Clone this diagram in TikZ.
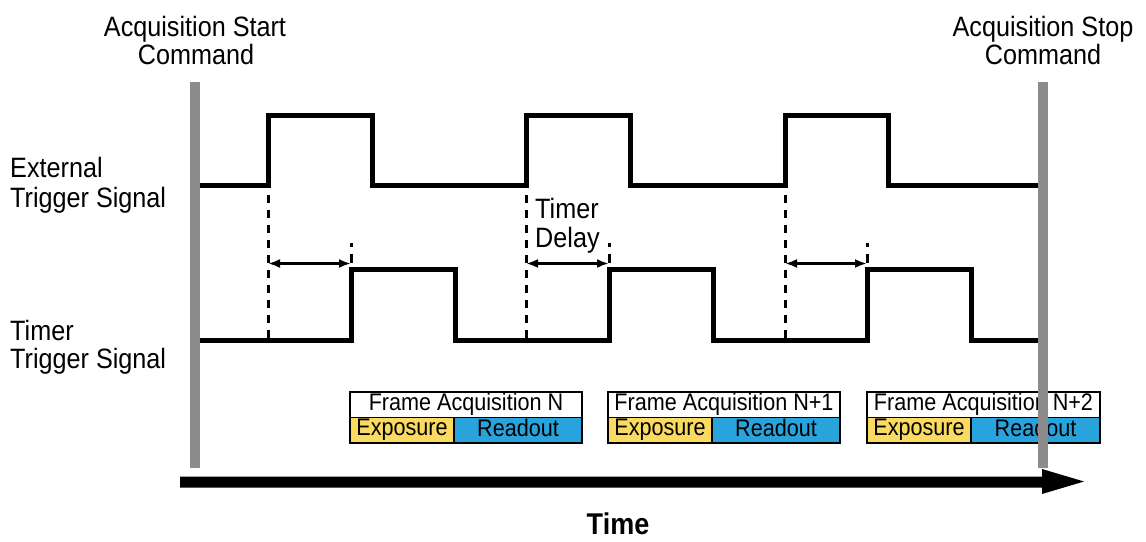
\documentclass[tikz,border=0pt]{standalone}
\usepackage{fontspec}
\setmainfont{Liberation Sans}[FakeStretch=0.9]
\usetikzlibrary{arrows.meta}
\definecolor{barGray}{HTML}{8C8C8C}
\definecolor{expYellow}{HTML}{FADB5F}
\definecolor{readBlue}{HTML}{29A3DC}
\tikzset{
  lbl/.style={inner sep=0pt, font=\fontsize{28}{29}\selectfont},
  boxtxt/.style={inner sep=0pt, font=\fontsize{24}{24}\selectfont},
  signal/.style={line width=5pt, line join=miter, line cap=rect},
  guide/.style={line width=3pt, dash pattern=on 8pt off 7pt},
  shortguide/.style={line width=3pt, dash pattern=on 4pt off 7pt on 9pt off 20pt},
  delay/.style={line width=3pt, {Latex[length=12pt,width=9pt]}-{Latex[length=12pt,width=9pt]}},
  cell/.style={draw=black, line width=1.5pt},
  cmdbar/.style={fill=barGray, draw=none},
}
\begin{document}
\begin{tikzpicture}[x=1pt,y=-1pt]
\useasboundingbox (0,0) rectangle (1146,541);

% labels
\node[lbl, anchor=base] (startA) at (195,36) {Acquisition Start};
\node[lbl, anchor=base] (startB) at (196,64) {Command};
\node[lbl, anchor=base] (stopA) at (1043,36) {Acquisition Stop};
\node[lbl, anchor=base] (stopB) at (1043,64) {Command};
\node[lbl, anchor=base west] (extA) at (10,177) {External};
\node[lbl, anchor=base west] (extB) at (10,207) {Trigger Signal};
\node[lbl, anchor=base west] (timA) at (10,340) {Timer};
\node[lbl, anchor=base west] (timB) at (10,368) {Trigger Signal};
\node[lbl, anchor=base west] (tdA) at (535,218) {Timer};
\node[lbl, anchor=base west] (tdB) at (535,247) {Delay};
\node[inner sep=0pt, anchor=base, font=\fontsize{30}{30}\selectfont\bfseries] (time) at (618,534) {Time};

% external trigger signal
\draw[signal] (200,185) -- (268,185) -- (268,115) -- (372,115) -- (372,185)
  -- (526,185) -- (526,115) -- (630,115) -- (630,185)
  -- (785,185) -- (785,115) -- (888,115) -- (888,185) -- (1040,185);
% timer trigger signal
\draw[signal] (200,340) -- (351,340) -- (351,269) -- (455,269) -- (455,340)
  -- (609,340) -- (609,269) -- (713,269) -- (713,340)
  -- (867,340) -- (867,269) -- (971,269) -- (971,340) -- (1040,340);

% guides and delay arrows
\foreach \a/\b [count=\i] in {268/351, 526/609, 785/867}{
  \coordinate (g\i top) at (\a,195);
  \coordinate (g\i bot) at (\a,340);
  \coordinate (s\i top) at (\b,242.5);
  \coordinate (s\i bot) at (\b,268);
  \coordinate (d\i a) at (\a,263.5);
  \coordinate (d\i b) at (\b,263.5);
  \draw[guide] (g\i top) -- (g\i bot);
  \draw[shortguide] (s\i top) -- (s\i bot);
  \draw[delay] (d\i a) -- (d\i b);
}

% frame acquisition boxes
\foreach \x/\m/\r/\t [count=\i] in {350/454/582/N, 608/712/840/N+1, 867/971/1100/N+2}{
  \path[cell, fill=white] (\x,392) rectangle (\r,417.5);
  \path[cell, fill=expYellow] (\x,417.5) rectangle (\m,443);
  \path[cell, fill=readBlue] (\m,417.5) rectangle (\r,443);
  \node[boxtxt, anchor=base] (fa\i) at ({(\x+\r)/2},410) {Frame Acquisition \t};
  \node[boxtxt, anchor=base] (ex\i) at ({(\x+\m)/2},435.5) {Exposure};
  \node[boxtxt, anchor=base] (ro\i) at ({(\m+\r)/2},436.5) {Readout};
}

% command bars
\path[cmdbar] (190,82) rectangle (200,467.5);
\path[cmdbar] (1038,82) rectangle (1048,467.5);

% time arrow
\fill[black] (180,476.5) -- (1042,476.5) -- (1042,469) -- (1084,481.5)
  -- (1042,494) -- (1042,487.5) -- (180,487.5) -- cycle;
\end{tikzpicture}
\end{document}
